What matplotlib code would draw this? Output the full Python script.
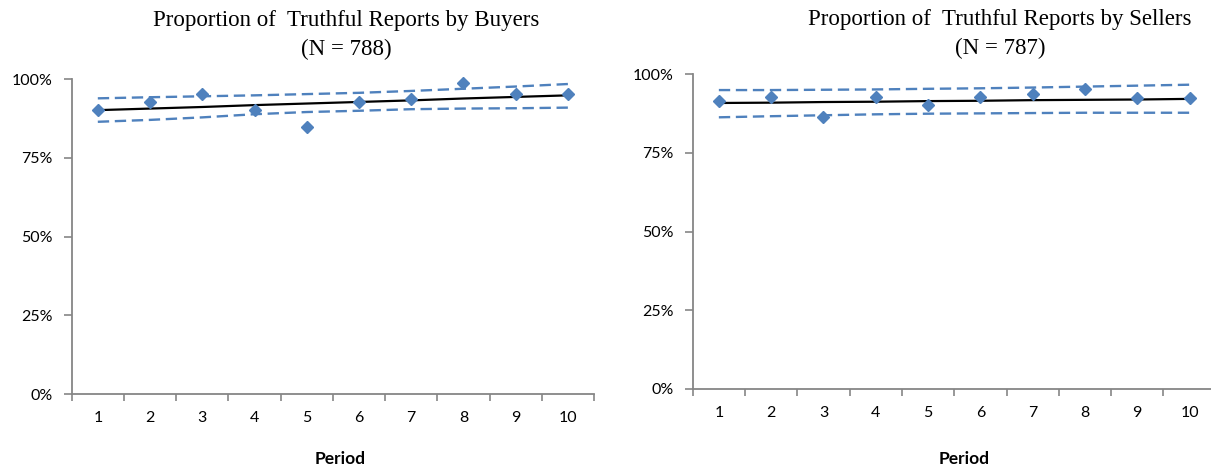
import numpy
import matplotlib
matplotlib.use("Agg")
import matplotlib.pyplot as plt
from matplotlib.ticker import PercentFormatter, FixedLocator

periods = [1, 2, 3, 4, 5, 6, 7, 8, 9, 10]
ytick_vals = [0, 0.25, 0.5, 0.75, 1.0]

# buyers panel
buyers = [0.902, 0.927, 0.952, 0.901, 0.849, 0.927, 0.938, 0.989, 0.952, 0.952]
buyers_trend = [0.902, 0.907, 0.912, 0.918, 0.923, 0.928, 0.933, 0.939, 0.944, 0.949]
buyers_upper = [0.9395, 0.943, 0.946, 0.949, 0.953, 0.957, 0.963, 0.970, 0.977, 0.985]
buyers_lower = [0.865, 0.871, 0.879, 0.889, 0.896, 0.900, 0.905, 0.907, 0.908, 0.910]

# sellers panel
sellers = [0.914, 0.928, 0.864, 0.928, 0.903, 0.927, 0.937, 0.951, 0.924, 0.924]
sellers_trend = [0.908, 0.909, 0.911, 0.912, 0.914, 0.915, 0.917, 0.918, 0.919, 0.921]
sellers_upper = [0.949, 0.949, 0.950, 0.951, 0.953, 0.9546, 0.957, 0.960, 0.963, 0.966]
sellers_lower = [0.8625, 0.866, 0.869, 0.872, 0.874, 0.875, 0.876, 0.877, 0.877, 0.877]

titles = ["Proportion of  Truthful Reports by Buyers\n(N = 788)",
          "Proportion of  Truthful Reports by Sellers\n(N = 787)"]

W, H = 1211, 472
fig = plt.figure(figsize=(W / 100, H / 100), dpi=100)

blue = "#4F81BD"
axcol = "#868686"
sans = ["Lato", "DejaVu Sans"]
serif = ["Liberation Serif", "DejaVu Serif"]

# axes boxes in pixels: left, right, bottom(y of 0%), top(y of 100%)
boxes = [(71.7, 594.0, 394.0, 79.3), (692.7, 1215.7, 389.0, 74.0)]
title_x = [346, 1000]
title_y = [35, 34]
xlabel_x = [340, 964]

panels = [(buyers, buyers_trend, buyers_upper, buyers_lower),
          (sellers, sellers_trend, sellers_upper, sellers_lower)]

for i in range(2):
    l, r, b, t = boxes[i]
    ax = fig.add_axes([l / W, (H - b) / H, (r - l) / W, (b - t) / H])
    vals, trend, up, lo = panels[i]
    ax.plot(periods, up, color=blue, lw=1.7, dashes=(4.8, 2.4), clip_on=False)
    ax.plot(periods, lo, color=blue, lw=1.7, dashes=(4.8, 2.4), clip_on=False)
    ax.plot(periods, trend, color="black", lw=1.6, clip_on=False)
    ax.plot(periods, vals, linestyle="none", marker="D", ms=6, color=blue,
            mec=blue, clip_on=False, zorder=5)

    ax.set_xlim(0.5, 10.5)
    ax.set_ylim(0, 1)
    ax.xaxis.set_major_locator(FixedLocator(numpy.arange(0.5, 11, 1)))
    ax.xaxis.set_minor_locator(FixedLocator(periods))
    ax.xaxis.set_major_formatter(plt.NullFormatter())
    ax.xaxis.set_minor_formatter(plt.FixedFormatter([str(p) for p in periods]))
    ax.tick_params(axis="x", which="major", length=5, width=1.2, color=axcol, direction="out")
    ax.tick_params(axis="x", which="minor", length=0, pad=12)
    ax.set_yticks(ytick_vals)
    ax.yaxis.set_major_formatter(PercentFormatter(1.0, decimals=0))
    ax.tick_params(axis="y", length=5.5, width=1.2, color=axcol, direction="out", pad=8)
    for lab in ax.get_xticklabels(which="minor") + ax.get_yticklabels():
        lab.set_family(sans)
        lab.set_fontsize(11.5)
        lab.set_color("black")

    for s in ["top", "right"]:
        ax.spines[s].set_visible(False)
    for s in ["left", "bottom"]:
        ax.spines[s].set_color(axcol)
        ax.spines[s].set_linewidth(1.3)

    fig.text(title_x[i] / W, 1 - title_y[i] / H, titles[i], ha="center", va="center",
             family=serif, fontsize=16.5, linespacing=1.45)
    fig.text(xlabel_x[i] / W, 1 - 459 / H, "Period", ha="center", va="center",
             family=sans, fontsize=12.5, fontweight="bold")

fig.savefig("out.png", dpi=100)
